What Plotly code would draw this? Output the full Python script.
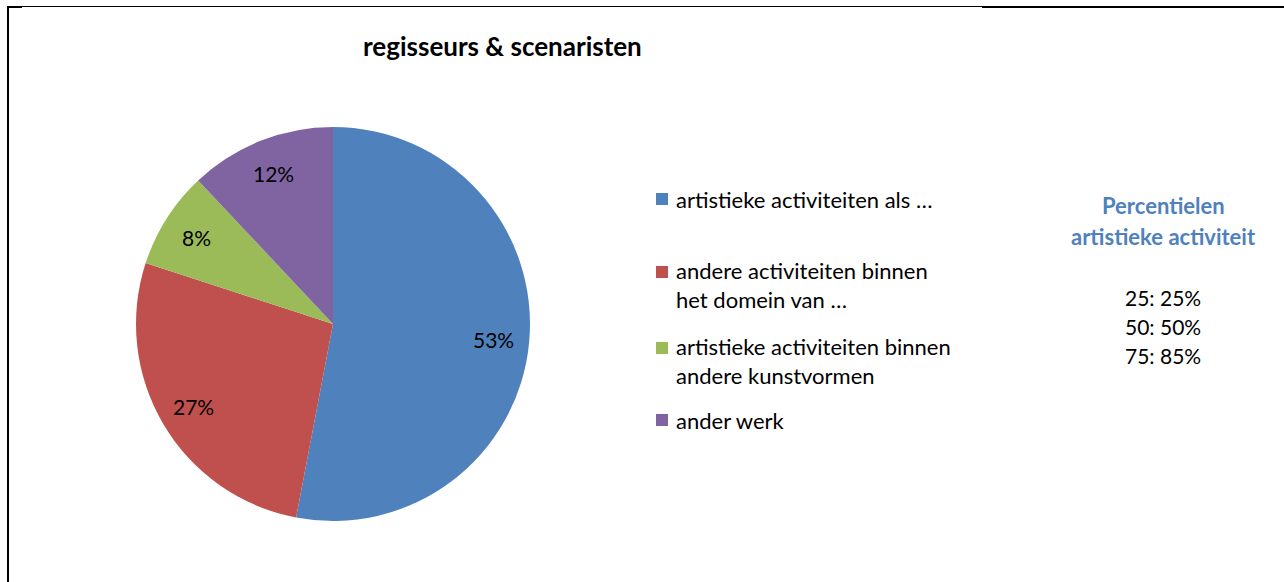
import math
import plotly.graph_objects as go

# Share of working time by activity type
categories = [
    "artistieke activiteiten als …",
    "andere activiteiten binnen<br>het domein van …",
    "artistieke activiteiten binnen<br>andere kunstvormen",
    "ander werk",
]
shares = [53, 27, 8, 12]
colors = ["#4F81BD", "#C0504D", "#9BBB59", "#8064A2"]

percentile_labels = ["25", "50", "75"]
percentile_values = [25, 50, 85]

W, H = 1284, 582
FONT = "Lato"

# Pie placement in pixels
CX, CY, R = 333, 324, 197

fig = go.Figure()
fig.add_trace(go.Pie(
    values=shares,
    labels=[c.replace("<br>", " ") for c in categories],
    marker=dict(colors=colors, line=dict(width=0)),
    sort=False,
    direction="clockwise",
    rotation=0,
    textinfo="none",
    domain=dict(x=[(CX - R) / W, (CX + R) / W], y=[(H - CY - R) / H, (H - CY + R) / H]),
    showlegend=False,
    hoverinfo="label+percent",
))

shapes = []
annotations = []

# Percentage labels at 0.82 of the radius, along each slice's mid-angle
total = sum(shares)
cum = 0
for v in shares:
    mid = (cum + v / 2) / total * 2 * math.pi
    cum += v
    px = CX + 0.82 * R * math.sin(mid)
    py = CY - 0.82 * R * math.cos(mid)
    annotations.append(dict(x=px / W, y=1 - py / H, xref="paper", yref="paper",
                            text=f"{v}%", showarrow=False, xanchor="center", yanchor="middle",
                            font=dict(family=FONT, size=21, color="black")))

# Legend drawn as colored squares with labels
legend_y = [199, 285, 361, 420]
for cat, col, yc in zip(categories, colors, legend_y):
    nlines = cat.count("<br>") + 1
    top = yc - (nlines - 1) * 13
    shapes.append(dict(type="rect", xref="paper", yref="paper",
                       x0=656 / W, x1=668 / W,
                       y0=1 - (top + 6) / H, y1=1 - (top - 6) / H,
                       fillcolor=col, line=dict(width=0)))
    annotations.append(dict(x=674 / W, y=1 - yc / H, xref="paper", yref="paper",
                            text=cat, showarrow=False, xanchor="left", yanchor="middle",
                            align="left",
                            font=dict(family=FONT, size=22, color="black")))

# Title
annotations.append(dict(x=502 / W, y=1 - 46 / H, xref="paper", yref="paper",
                        text="<b>regisseurs & scenaristen</b>", showarrow=False,
                        xanchor="center", yanchor="middle",
                        font=dict(family=FONT, size=26, color="black")))

# Percentile box
for i, line in enumerate(["Percentielen", "artistieke activiteit"]):
    annotations.append(dict(x=1163 / W, y=1 - (205 + 31 * i) / H, xref="paper", yref="paper",
                            text=f"<b>{line}</b>", showarrow=False,
                            xanchor="center", yanchor="middle",
                            font=dict(family=FONT, size=22, color="#4F81BD")))
for i, (p, v) in enumerate(zip(percentile_labels, percentile_values)):
    annotations.append(dict(x=1163 / W, y=1 - (297 + 29 * i) / H, xref="paper", yref="paper",
                            text=f"{p}: {v}%", showarrow=False,
                            xanchor="center", yanchor="middle",
                            font=dict(family=FONT, size=21, color="black")))

# Frame lines
shapes += [
    dict(type="line", xref="paper", yref="paper", x0=8 / W, x1=8 / W, y0=0, y1=1 - 6 / H,
         line=dict(color="black", width=2)),
    dict(type="line", xref="paper", yref="paper", x0=7 / W, x1=22 / W,
         y0=1 - 7 / H, y1=1 - 7 / H, line=dict(color="black", width=2)),
    dict(type="line", xref="paper", yref="paper", x0=22 / W, x1=982 / W,
         y0=1 - 6.5 / H, y1=1 - 6.5 / H, line=dict(color="black", width=1)),
    dict(type="line", xref="paper", yref="paper", x0=982 / W, x1=1,
         y0=1 - 7 / H, y1=1 - 7 / H, line=dict(color="black", width=2)),
]

fig.update_layout(
    width=W, height=H,
    margin=dict(l=0, r=0, t=0, b=0),
    paper_bgcolor="white", plot_bgcolor="white",
    shapes=shapes, annotations=annotations,
)

fig.write_html("out.html")
